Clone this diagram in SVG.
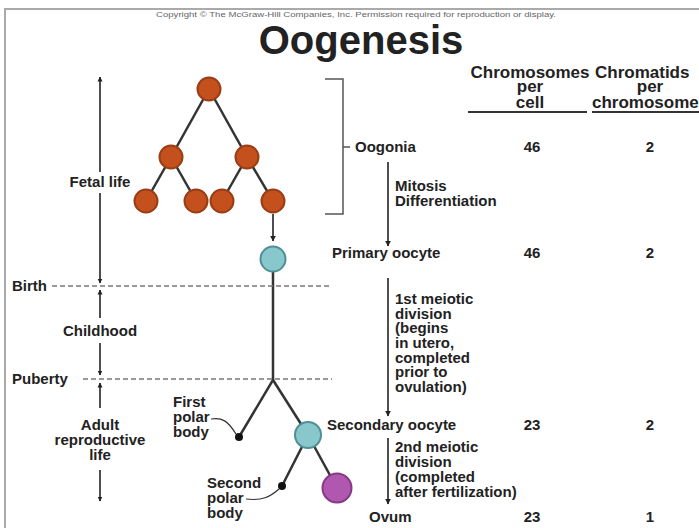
<svg xmlns="http://www.w3.org/2000/svg" width="699" height="528" viewBox="0 0 699 528">
<defs>
<marker id="ah" viewBox="0 0 10 10" refX="9" refY="5" markerWidth="6" markerHeight="6" markerUnits="userSpaceOnUse" orient="auto">
<path d="M0,0 L10,5 L0,10 z" fill="#222"/>
</marker>
<marker id="ahs" viewBox="0 0 10 10" refX="9" refY="5" markerWidth="5" markerHeight="6" markerUnits="userSpaceOnUse" orient="auto">
<path d="M0,0 L10,5 L0,10 z" fill="#222"/>
</marker>
</defs>
<style>
text{font-family:"Liberation Sans",Arial,Helvetica,sans-serif;font-weight:bold;fill:#222;font-size:15px}
.hd{font-size:17px}
.mid{text-anchor:middle}
.cp{font-size:7px;font-weight:normal;fill:#666}
.title{font-size:40px}
.og{fill:#c4501e;stroke:#9a3c14;stroke-width:2}
.cy{fill:#88c8cc;stroke:#4f8f95;stroke-width:2}
.mg{fill:#b058b0;stroke:#853a85;stroke-width:2}
.dot{fill:#111}
.ln{stroke:#333;stroke-width:2.5;fill:none}
.ar{stroke:#222;stroke-width:1.6;fill:none}
.ds{stroke:#777;stroke-width:1.5;stroke-dasharray:5 3;fill:none}
.br{stroke:#555;stroke-width:1.5;fill:none}
.ld{stroke:#333;stroke-width:1.2;fill:none}
</style>
<rect width="699" height="528" fill="#fff"/>
<path d="M5,528 V9 H699" fill="none" stroke="#aaa" stroke-width="2"/>
<text class="cp mid" x="356" y="17" textLength="400" lengthAdjust="spacingAndGlyphs">Copyright © The McGraw-Hill Companies, Inc. Permission required for reproduction or display.</text>
<text class="title mid" x="361" y="54">Oogenesis</text>

<g id="headers">
<text class="hd mid" x="530" y="78">Chromosomes</text>
<text class="hd mid" x="530" y="92">per</text>
<text class="hd mid" x="530" y="108">cell</text>
<text class="hd" x="595" y="78">Chromatids</text>
<text class="hd mid" x="650" y="92">per</text>
<text class="hd" x="592" y="108">chromosome</text>
<line x1="468" y1="112" x2="587" y2="112" stroke="#333" stroke-width="2"/>
<line x1="592" y1="112" x2="699" y2="112" stroke="#333" stroke-width="2"/>
</g>

<g id="connectors">
<line class="ln" x1="209" y1="89" x2="171" y2="157"/>
<line class="ln" x1="209" y1="89" x2="247" y2="157"/>
<line class="ln" x1="171" y1="157" x2="146" y2="201"/>
<line class="ln" x1="171" y1="157" x2="196" y2="201"/>
<line class="ln" x1="247" y1="157" x2="222" y2="201"/>
<line class="ln" x1="247" y1="157" x2="273" y2="201"/>
<line class="ar" x1="273" y1="214" x2="273" y2="241" marker-end="url(#ah)"/>
<polyline class="ln" points="273,272 273,380 239,437"/>
<line class="ln" x1="273" y1="380" x2="308" y2="435"/>
<line class="ln" x1="308" y1="435" x2="282" y2="486"/>
<line class="ln" x1="308" y1="435" x2="337" y2="488"/>
<path class="ld" d="M211,419 C222,417 228,421 236,434"/>
<path class="ld" d="M246,499 C262,501 270,497 279,489"/>
<line class="ar" x1="388" y1="162" x2="388" y2="246" marker-end="url(#ah)"/>
<line class="ar" x1="388" y1="278" x2="388" y2="416" marker-end="url(#ah)"/>
<line class="ar" x1="388" y1="438" x2="388" y2="504" marker-end="url(#ah)"/>
</g>

<g id="oogonia-tree">
<circle class="og" cx="209" cy="89" r="11.5"/>
<circle class="og" cx="171" cy="157" r="11.5"/>
<circle class="og" cx="247" cy="157" r="11.5"/>
<circle class="og" cx="146" cy="201" r="11.5"/>
<circle class="og" cx="196" cy="201" r="11.5"/>
<circle class="og" cx="222" cy="201" r="11.5"/>
<circle class="og" cx="273" cy="201" r="11.5"/>
</g>
<g id="primary-oocyte-cell"><circle class="cy" cx="273" cy="259" r="12.5"/></g>
<g id="first-polar-body"><circle class="dot" cx="239" cy="437" r="4"/>
<text x="173" y="407">First</text><text x="173" y="422">polar</text><text x="173" y="437">body</text></g>
<g id="secondary-oocyte-cell"><circle class="cy" cx="308" cy="435" r="13"/></g>
<g id="second-polar-body"><circle class="dot" cx="282" cy="486" r="4"/>
<text x="207" y="488">Second</text><text x="207" y="503">polar</text><text x="207" y="518">body</text></g>
<g id="ovum-cell"><circle class="mg" cx="337" cy="488" r="14.5"/></g>

<g id="timeline">
<line class="ar" x1="100" y1="172" x2="100" y2="77" marker-end="url(#ahs)"/>
<text class="mid" x="100" y="187">Fetal life</text>
<line class="ar" x1="100" y1="193" x2="100" y2="283" marker-end="url(#ahs)"/>
<line class="ds" x1="52" y1="286" x2="332" y2="286"/>
<text x="12" y="291">Birth</text>
<line class="ar" x1="100" y1="318" x2="100" y2="290" marker-end="url(#ahs)"/>
<text class="mid" x="100" y="336">Childhood</text>
<line class="ar" x1="100" y1="343" x2="100" y2="375" marker-end="url(#ahs)"/>
<line class="ds" x1="83" y1="379" x2="332" y2="379"/>
<text x="12" y="384">Puberty</text>
<line class="ar" x1="100" y1="408" x2="100" y2="383" marker-end="url(#ahs)"/>
<text class="mid" x="100" y="430">Adult</text>
<text class="mid" x="100" y="445">reproductive</text>
<text class="mid" x="100" y="460">life</text>
<line class="ar" x1="100" y1="470" x2="100" y2="501" marker-end="url(#ahs)"/>
</g>

<g id="oogonia-label">
<path class="br" d="M325,79 H343 V214 H325 M343,147 H350"/>
<text x="355" y="152">Oogonia</text>
<text class="mid" x="532" y="152">46</text>
<text class="mid" x="650" y="152">2</text>
</g>
<g id="mitosis-label">
<text x="395" y="191">Mitosis</text>
<text x="395" y="206">Differentiation</text>
</g>
<g id="primary-oocyte-label">
<text x="332" y="258">Primary oocyte</text>
<text class="mid" x="532" y="258">46</text>
<text class="mid" x="650" y="258">2</text>
</g>
<g id="meiosis1-label">
<text x="395" y="304">1st meiotic</text>
<text x="395" y="319">division</text>
<text x="395" y="333">(begins</text>
<text x="395" y="348">in utero,</text>
<text x="395" y="363">completed</text>
<text x="395" y="377">prior to</text>
<text x="395" y="392">ovulation)</text>
</g>
<g id="secondary-oocyte-label">
<text x="327" y="430">Secondary oocyte</text>
<text class="mid" x="532" y="430">23</text>
<text class="mid" x="650" y="430">2</text>
</g>
<g id="meiosis2-label">
<text x="395" y="452">2nd meiotic</text>
<text x="395" y="467">division</text>
<text x="395" y="482">(completed</text>
<text x="395" y="497">after fertilization)</text>
</g>
<g id="ovum-label">
<text x="369" y="522">Ovum</text>
<text class="mid" x="532" y="522">23</text>
<text class="mid" x="650" y="522">1</text>
</g>
</svg>
